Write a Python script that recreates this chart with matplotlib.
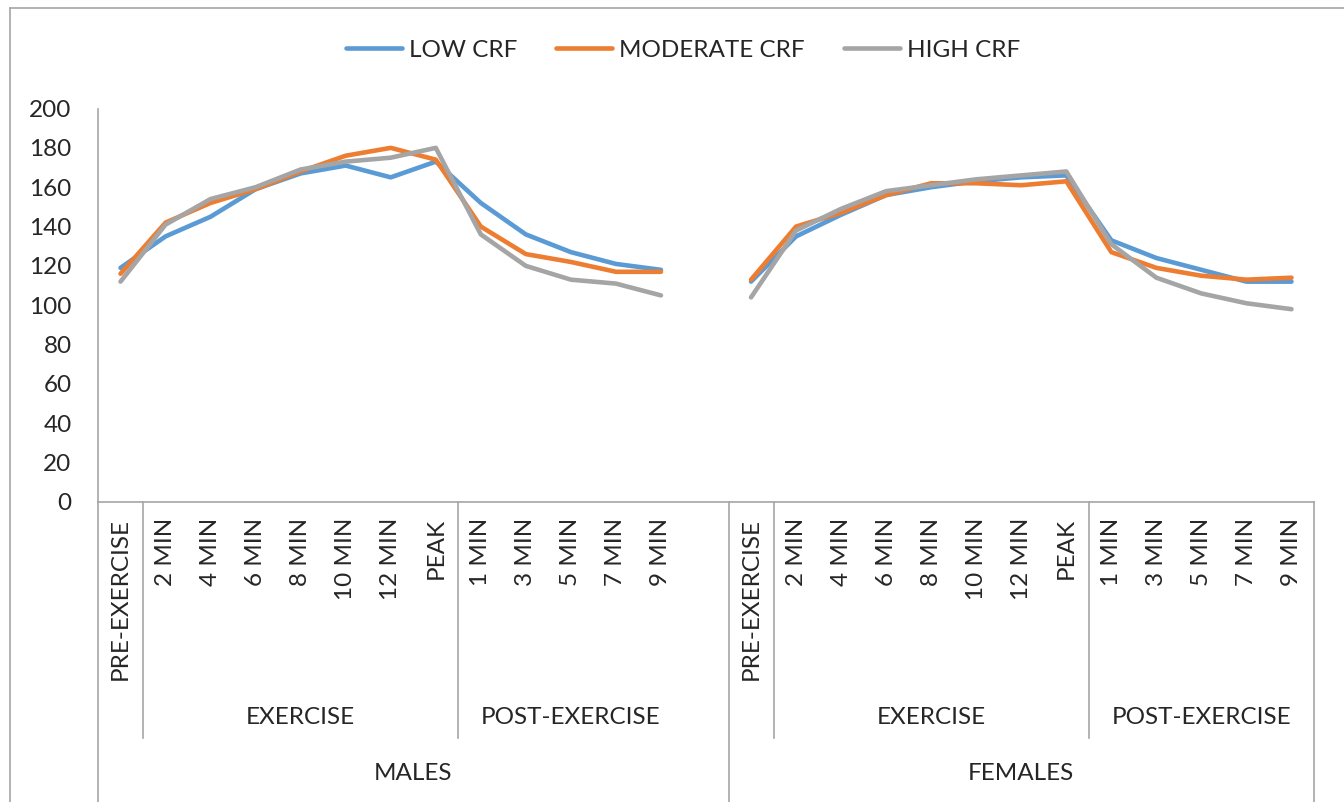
import numpy as np
import matplotlib.pyplot as plt
from matplotlib.lines import Line2D

plt.rcParams['font.family'] = ['Lato', 'DejaVu Sans']

seriesNames = ['LOW CRF', 'MODERATE CRF', 'HIGH CRF']
seriesColors = ['#5B9BD5', '#ED7D31', '#A5A5A5']

timeLabels = ['PRE-EXERCISE', '2 MIN', '4 MIN', '6 MIN', '8 MIN', '10 MIN',
              '12 MIN', 'PEAK', '1 MIN', '3 MIN', '5 MIN', '7 MIN', '9 MIN']
phaseLabels = ['EXERCISE', 'POST-EXERCISE']
groupLabels = ['MALES', 'FEMALES']

malesLow = [119, 135, 145, 159, 167, 171, 165, 173, 152, 136, 127, 121, 118]
malesModerate = [116, 142, 152, 159, 168, 176, 180, 174, 140, 126, 122, 117, 117]
malesHigh = [112, 141, 154, 160, 169, 173, 175, 180, 136, 120, 113, 111, 105]

femalesLow = [112, 135, 146, 156, 160, 163, 165, 166, 133, 124, 118, 112, 112]
femalesModerate = [113, 140, 147, 156, 162, 162, 161, 163, 127, 119, 115, 113, 114]
femalesHigh = [104, 138, 149, 158, 161, 164, 166, 168, 131, 114, 106, 101, 98]

males = [malesLow, malesModerate, malesHigh]
females = [femalesLow, femalesModerate, femalesHigh]

W, H = 1344, 802
fig = plt.figure(figsize=(W / 100, H / 100), dpi=100)
axL, axR, axB, axT = 98, 1314, 502, 108.5
ax = fig.add_axes([axL / W, 1 - axB / H, (axR - axL) / W, (axB - axT) / H])

nGroup = len(timeLabels)
nTotal = nGroup * 2 + 1
xMales = np.arange(nGroup)
xFemales = np.arange(nGroup) + nGroup + 1

lineColor = '#A6A6A6'
for i in range(3):
    ax.plot(xMales, males[i], color=seriesColors[i], lw=3.3,
            solid_joinstyle='round', solid_capstyle='round', label=seriesNames[i])
    ax.plot(xFemales, females[i], color=seriesColors[i], lw=3.3,
            solid_joinstyle='round', solid_capstyle='round')

ax.set_xlim(-0.5, nTotal - 0.5)
ax.set_ylim(0, 200)
ax.set_yticks(np.arange(0, 201, 20))
ax.tick_params(axis='y', length=0, pad=19, labelsize=17.5, labelcolor='#262626')
ax.set_xticks([])
for s in ['top', 'right']:
    ax.spines[s].set_visible(False)
ax.spines['left'].set_color(lineColor)
ax.spines['bottom'].set_color(lineColor)
ax.spines['left'].set_linewidth(1.2)
ax.spines['bottom'].set_linewidth(1.2)

trans = ax.get_xaxis_transform()
axH = axB - axT


def yfrac(py):
    return (axB - py) / axH


txtColor = '#262626'
for start in [0, nGroup + 1]:
    for j, lab in enumerate(timeLabels):
        ax.text(start + j, yfrac(518), lab, rotation=90, ha='center', va='top',
                fontsize=17.5, color=txtColor, transform=trans)
    # EXERCISE spans 2 MIN..PEAK, POST-EXERCISE spans 1 MIN..9 MIN
    ax.text(start + 4, yfrac(718), phaseLabels[0], ha='center', va='center',
            fontsize=17.5, color=txtColor, transform=trans)
    ax.text(start + 10, yfrac(718), phaseLabels[1], ha='center', va='center',
            fontsize=17.5, color=txtColor, transform=trans)
    for xd in [start + 0.5, start + 7.5]:
        ax.add_line(Line2D([xd, xd], [0, yfrac(738)], color=lineColor, lw=1.2,
                           transform=trans, clip_on=False))

ax.text(6.5, yfrac(773), groupLabels[0], ha='center', va='center',
        fontsize=17.5, color=txtColor, transform=trans)
ax.text(nGroup + 1 + 6, yfrac(773), groupLabels[1], ha='center', va='center',
        fontsize=17.5, color=txtColor, transform=trans)
for xd in [-0.5, nGroup + 0.5, nTotal - 0.5]:
    ax.add_line(Line2D([xd, xd], [0, yfrac(810)], color=lineColor, lw=1.2,
                       transform=trans, clip_on=False))

# chart border
fig.add_artist(Line2D([10 / W, 10 / W], [0, 1 - 8 / H], color=lineColor, lw=1.2))
fig.add_artist(Line2D([10 / W, 1], [1 - 8 / H, 1 - 8 / H], color=lineColor, lw=1.2))

fig.legend(loc='center', bbox_to_anchor=(683 / W, 1 - 50 / H), ncol=3,
           frameon=False, fontsize=17.5, handlelength=2.3, handletextpad=0.3,
           columnspacing=1.6, labelcolor=txtColor)

plt.savefig('out.png', dpi=100)
